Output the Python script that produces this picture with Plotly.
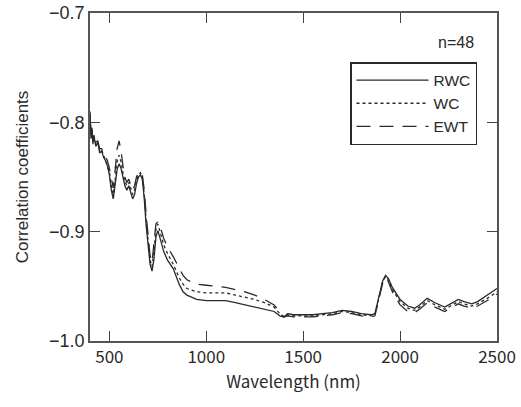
import plotly.graph_objects as go

wavelength = [400, 405, 410, 415, 420, 430, 440, 450, 460, 470, 480, 490, 500, 510, 520, 530, 540, 550,
              560, 570, 580, 590, 600, 610, 620, 630, 640, 650, 660, 670, 680, 690, 700, 710, 720, 730,
              740, 750, 760, 770, 780, 800, 830, 860, 880, 900, 950, 1000, 1050, 1100, 1150, 1200, 1250,
              1300, 1350, 1380, 1400, 1420, 1450, 1500, 1550, 1600, 1650, 1700, 1750, 1800, 1850, 1870,
              1890, 1910, 1925, 1940, 1960, 2000, 2040, 2075, 2100, 2140, 2180, 2230, 2260, 2300, 2330,
              2370, 2400, 2450, 2500]

rwc = [-0.790, -0.815, -0.805, -0.820, -0.812, -0.822, -0.818, -0.828, -0.826, -0.832, -0.835, -0.840,
       -0.848, -0.862, -0.870, -0.858, -0.843, -0.838, -0.842, -0.850, -0.858, -0.862, -0.858, -0.864,
       -0.870, -0.866, -0.856, -0.850, -0.848, -0.852, -0.870, -0.895, -0.915, -0.930, -0.936, -0.925,
       -0.905, -0.899, -0.905, -0.912, -0.918, -0.926, -0.934, -0.948, -0.955, -0.958, -0.962, -0.963,
       -0.963, -0.963, -0.965, -0.967, -0.969, -0.971, -0.973, -0.977, -0.978, -0.975, -0.976, -0.976,
       -0.976, -0.975, -0.974, -0.972, -0.973, -0.975, -0.976, -0.975, -0.960, -0.945, -0.940, -0.943,
       -0.951, -0.962, -0.968, -0.970, -0.967, -0.961, -0.965, -0.969, -0.966, -0.962, -0.964, -0.966,
       -0.964, -0.958, -0.952]

wc = [-0.792, -0.812, -0.806, -0.818, -0.812, -0.820, -0.818, -0.826, -0.825, -0.830, -0.833, -0.838,
      -0.845, -0.858, -0.866, -0.852, -0.836, -0.830, -0.836, -0.846, -0.854, -0.858, -0.855, -0.860,
      -0.866, -0.862, -0.853, -0.848, -0.846, -0.850, -0.866, -0.890, -0.910, -0.926, -0.932, -0.918,
      -0.898, -0.893, -0.899, -0.906, -0.912, -0.920, -0.930, -0.942, -0.948, -0.952, -0.955, -0.956,
      -0.956, -0.956, -0.958, -0.960, -0.962, -0.965, -0.969, -0.975, -0.978, -0.976, -0.977, -0.977,
      -0.977, -0.976, -0.975, -0.973, -0.974, -0.976, -0.977, -0.976, -0.961, -0.946, -0.941, -0.944,
      -0.953, -0.964, -0.970, -0.972, -0.969, -0.963, -0.967, -0.971, -0.968, -0.964, -0.966, -0.968,
      -0.966, -0.961, -0.955]

ewt = [-0.794, -0.810, -0.806, -0.816, -0.811, -0.818, -0.817, -0.824, -0.824, -0.828, -0.831, -0.835,
       -0.842, -0.852, -0.860, -0.843, -0.824, -0.817, -0.826, -0.840, -0.850, -0.855, -0.852, -0.857,
       -0.862, -0.858, -0.850, -0.846, -0.845, -0.848, -0.862, -0.885, -0.905, -0.922, -0.928, -0.910,
       -0.893, -0.891, -0.895, -0.900, -0.906, -0.914, -0.923, -0.934, -0.940, -0.944, -0.948, -0.949,
       -0.950, -0.951, -0.953, -0.955, -0.958, -0.962, -0.967, -0.974, -0.978, -0.977, -0.978, -0.978,
       -0.978, -0.977, -0.976, -0.974, -0.975, -0.977, -0.978, -0.977, -0.962, -0.947, -0.942, -0.946,
       -0.955, -0.967, -0.973, -0.974, -0.971, -0.965, -0.969, -0.973, -0.970, -0.966, -0.968, -0.970,
       -0.968, -0.963, -0.957]

series_names = ["RWC", "WC", "EWT"]
x_ticks = [500, 1000, 1500, 2000, 2500]
y_ticks = [-1.0, -0.9, -0.8, -0.7]
y_tick_labels = ["\u22121.0", "\u22120.9", "\u22120.8", "\u22120.7"]

line_col = "#2a2a2a"
fig = go.Figure()
for name, vals, dash in zip(series_names, [rwc, wc, ewt], ["solid", "dot", "14px,9px"]):
    fig.add_trace(go.Scatter(x=wavelength, y=vals, mode="lines", name=name,
                             line=dict(color=line_col, width=1.3, dash=dash)))

fig.update_layout(
    width=521, height=407,
    margin=dict(l=90, r=24, t=13, b=66, autoexpand=False),
    paper_bgcolor="white", plot_bgcolor="white",
    font=dict(family="Liberation Sans, Arial, sans-serif", size=15, color="#2a2a2a"),
    showlegend=True,
    legend=dict(x=(350 - 90) / 407, y=1 - (62 - 13) / 328, xanchor="left", yanchor="top",
                bordercolor="#2a2a2a", borderwidth=1.5, bgcolor="white",
                font=dict(size=15.5, color="#2a2a2a"), tracegroupgap=0,
                itemwidth=72),
    annotations=[dict(text="n=48", x=(476 - 90) / 407, y=1 - (43 - 13) / 328,
                      xref="paper", yref="paper",
                      xanchor="right", yanchor="middle", showarrow=False,
                      font=dict(size=16, color="#2a2a2a"))],
)
fig.update_xaxes(range=[400, 2500], tickvals=x_ticks, ticks="inside", ticklen=10,
                 tickwidth=1.2, tickcolor="#444", showline=True, linecolor="#555",
                 linewidth=1.5, mirror="ticks", showgrid=False, zeroline=False, automargin=False,
                 title=dict(text="Wavelength (nm)", standoff=8,
                            font=dict(family="Noto Sans CJK JP, sans-serif", size=17)),
                 tickfont=dict(family="Noto Sans CJK JP, sans-serif", size=17))
fig.update_yaxes(range=[-1.0, -0.7], tickvals=y_ticks, ticktext=y_tick_labels,
                 ticks="inside", ticklen=10, tickwidth=1.2, tickcolor="#444",
                 showline=True, linecolor="#555", linewidth=1.5, mirror="ticks",
                 showgrid=False, zeroline=False, automargin=False,
                 title=dict(text="Correlation coefficients", standoff=16, font=dict(size=17)),
                 tickfont=dict(size=18))

fig.write_html("out.html", config={"displayModeBar": False},
               post_script="document.body.style.margin='0';")
